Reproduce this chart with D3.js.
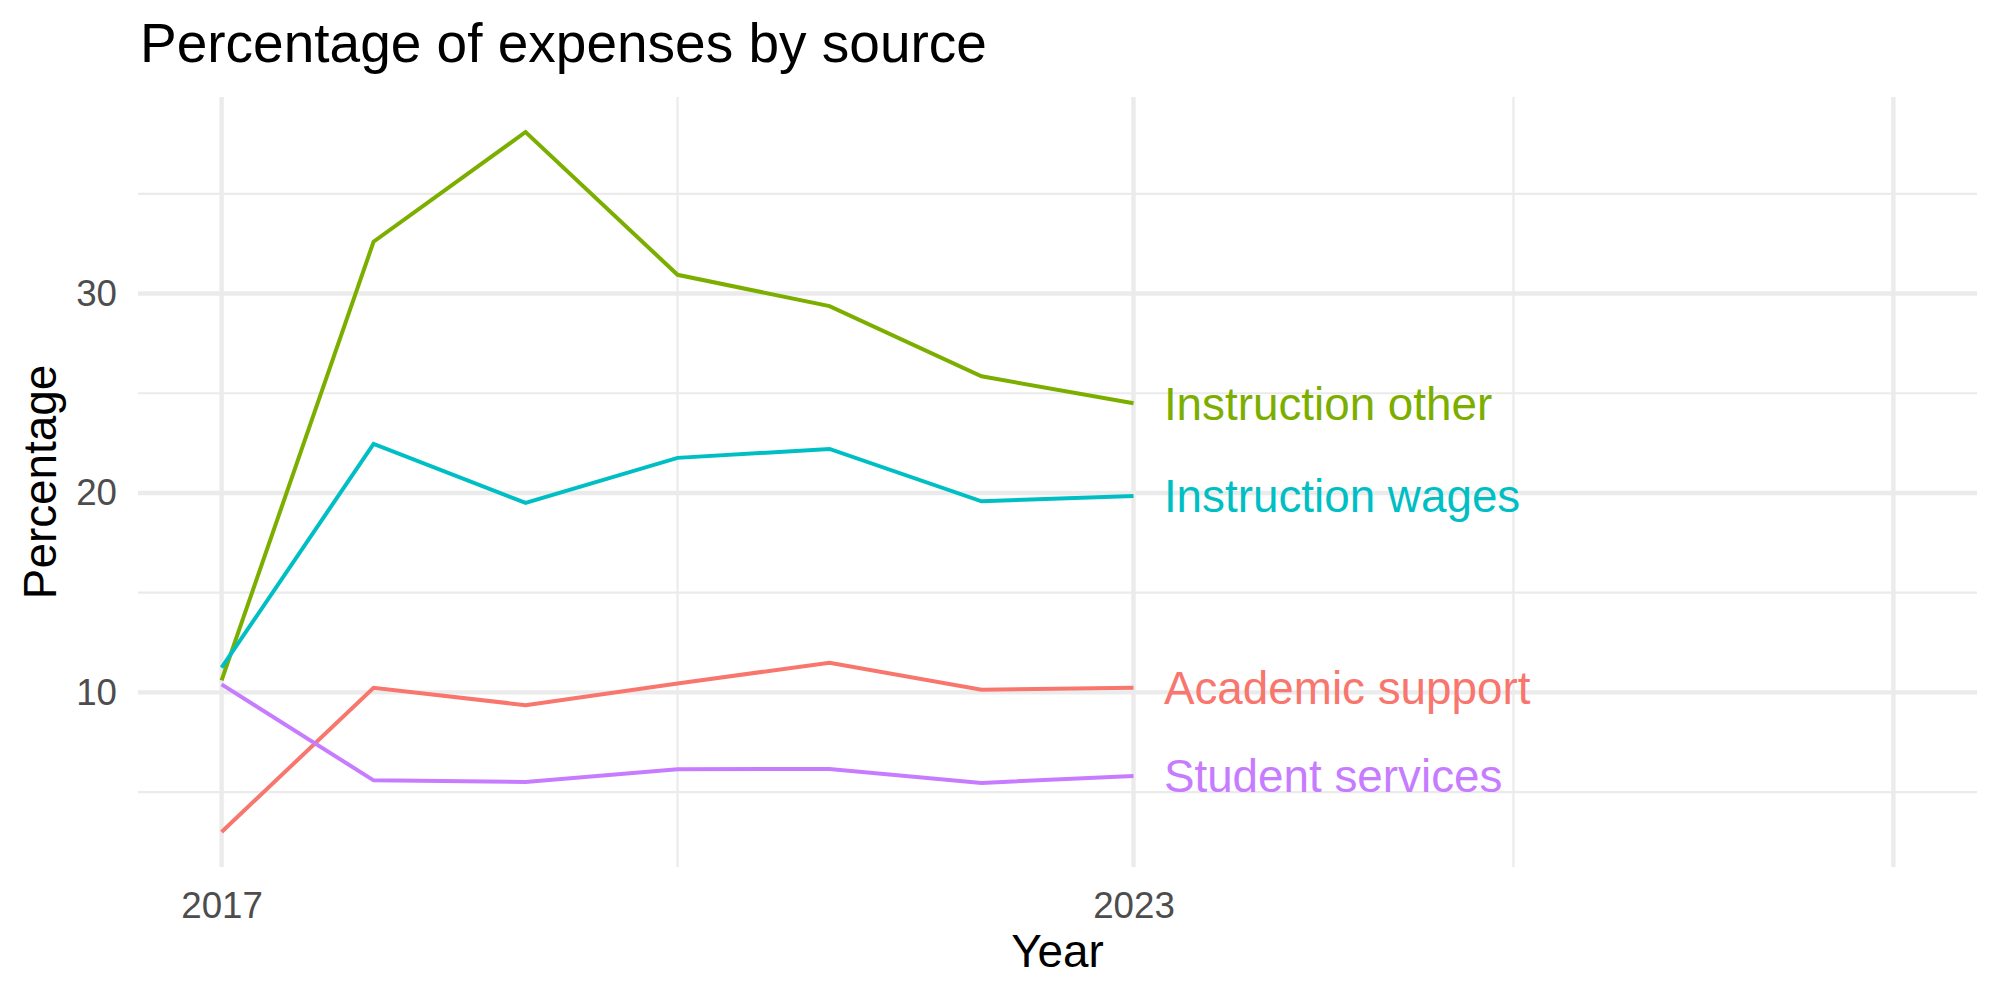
<!DOCTYPE html>
<html>
<head>
<meta charset="utf-8">
<script src="https://cdn.jsdelivr.net/npm/d3@7"></script>
<style>
  body { margin: 0; background: #fff; }
  text { font-family: "Liberation Sans", Arial, Helvetica, sans-serif; }
</style>
</head>
<body>
<div id="chart"></div>
<script>
const width = 2000;
const height = 1000;
const margin = {top: 97, right: 23, bottom: 133, left: 138};

// data
const years = [2017, 2018, 2019, 2020, 2021, 2022, 2023];
const sources = ["Academic support", "Instruction other", "Instruction wages", "Student services"];
const academicSupport = [3.0, 10.23, 9.36, 10.45, 11.49, 10.13, 10.23];
const instructionOther = [10.6, 32.6, 38.1, 30.94, 29.37, 25.85, 24.5];
const instructionWages = [11.24, 22.46, 19.5, 21.76, 22.21, 19.58, 19.85];
const studentServices = [10.4, 5.59, 5.51, 6.15, 6.16, 5.46, 5.81];
const colors = ["#F8766D", "#7CAE00", "#00BFC4", "#C77CFF"];

// ticks
const xBreaks = [2017, 2023, 2028];
const xLabels = ["2017", "2023", ""];
const xMinor = [2020, 2025.5];
const yBreaks = [10, 20, 30];
const yMinor = [5, 15, 25, 35];

const series = [academicSupport, instructionOther, instructionWages, studentServices]
  .map((vals, i) => ({name: sources[i], color: colors[i], values: years.map((yr, j) => ({year: yr, value: vals[j]}))}));

const svg = d3.select("#chart").append("svg")
  .attr("width", width)
  .attr("height", height);

const pw = width - margin.left - margin.right;
const ph = height - margin.top - margin.bottom;

// ggplot style 5% expansion
const xLim = [2017, 2028];
const xPad = (xLim[1] - xLim[0]) * 0.05;
const x = d3.scaleLinear().domain([xLim[0] - xPad, xLim[1] + xPad]).range([0, pw]);

const allVals = series.flatMap(s => s.values.map(d => d.value));
const yMin = d3.min(allVals), yMax = d3.max(allVals);
const yPad = (yMax - yMin) * 0.05;
const y = d3.scaleLinear().domain([yMin - yPad, yMax + yPad]).range([ph, 0]);

const g = svg.append("g").attr("transform", `translate(${margin.left},${margin.top})`);

// grid
const grid = g.append("g");
grid.selectAll(".ymin").data(yMinor).join("line")
  .attr("x1", 0).attr("x2", pw)
  .attr("y1", d => y(d)).attr("y2", d => y(d))
  .attr("stroke", "#EBEBEB").attr("stroke-width", 2.2);
grid.selectAll(".xmin").data(xMinor).join("line")
  .attr("x1", d => x(d)).attr("x2", d => x(d))
  .attr("y1", 0).attr("y2", ph)
  .attr("stroke", "#EBEBEB").attr("stroke-width", 2.2);
grid.selectAll(".ymaj").data(yBreaks).join("line")
  .attr("x1", 0).attr("x2", pw)
  .attr("y1", d => y(d)).attr("y2", d => y(d))
  .attr("stroke", "#EBEBEB").attr("stroke-width", 4.4);
grid.selectAll(".xmaj").data(xBreaks).join("line")
  .attr("x1", d => x(d)).attr("x2", d => x(d))
  .attr("y1", 0).attr("y2", ph)
  .attr("stroke", "#EBEBEB").attr("stroke-width", 4.4);

// axes (no lines, no ticks)
const xAxis = g.append("g")
  .attr("transform", `translate(0,${ph})`)
  .call(d3.axisBottom(x).tickValues(xBreaks).tickFormat((d, i) => xLabels[i]).tickSize(0).tickPadding(25));
const yAxis = g.append("g")
  .call(d3.axisLeft(y).tickValues(yBreaks).tickSize(0).tickPadding(21));
[xAxis, yAxis].forEach(a => {
  a.select(".domain").remove();
  a.selectAll("text")
    .attr("fill", "#4D4D4D")
    .style("font-size", "36.7px")
    .style("font-family", "'Liberation Sans', Arial, Helvetica, sans-serif");
});

// lines
const line = d3.line().x(d => x(d.year)).y(d => y(d.value));
g.selectAll(".series").data(series).join("path")
  .attr("d", d => line(d.values))
  .attr("fill", "none")
  .attr("stroke", d => d.color)
  .attr("stroke-width", 4)
  .attr("stroke-linejoin", "miter");

// end labels
g.selectAll(".lab").data(series).join("text")
  .attr("x", x(2023.2))
  .attr("y", d => y(d.values[d.values.length - 1].value))
  .attr("dy", "0.36em")
  .attr("fill", d => d.color)
  .style("font-size", "45.8px")
  .text(d => d.name);

// titles
svg.append("text")
  .attr("x", margin.left + 2)
  .attr("y", 62)
  .style("font-size", "55px")
  .attr("fill", "#000")
  .text("Percentage of expenses by source");

svg.append("text")
  .attr("x", margin.left + pw / 2)
  .attr("y", 967)
  .attr("text-anchor", "middle")
  .style("font-size", "45.8px")
  .attr("fill", "#000")
  .text("Year");

svg.append("text")
  .attr("transform", `translate(56,${margin.top + ph / 2}) rotate(-90)`)
  .attr("text-anchor", "middle")
  .style("font-size", "45.8px")
  .attr("fill", "#000")
  .text("Percentage");
</script>
</body>
</html>
